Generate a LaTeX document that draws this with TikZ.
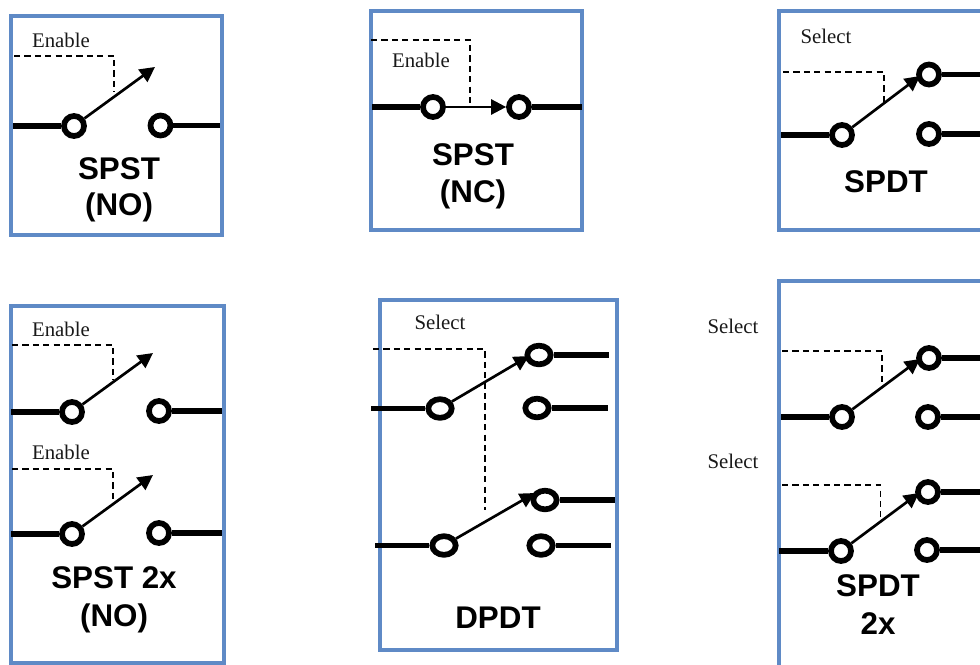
\documentclass[tikz,border=0pt]{standalone}
\usepackage{fontspec}
\setmainfont{Liberation Serif}
\newfontfamily\boldsans[BoldFont=Liberation Sans Bold]{Liberation Sans}
\usetikzlibrary{arrows.meta,shapes.geometric}
\definecolor{boxblue}{HTML}{5F8AC6}
\tikzset{
  x=0.75pt,y=-0.75pt,
  frame/.style={draw=boxblue,line width=3pt,line join=miter},
  term/.style={circle,draw=black,fill=white,line width=4.3pt,minimum size=15pt,inner sep=0pt},
  oterm/.style={ellipse,draw=black,fill=white,line width=4.3pt,minimum width=17.5pt,minimum height=14pt,inner sep=0pt},
  lead/.style={draw=black,line width=4.1pt},
  swarm/.style={draw=black,line width=2pt,-{Triangle[length=11.3pt,width=11.3pt]}},
  ctl/.style={draw=black,line width=1.15pt,dash pattern=on 4.6pt off 3.2pt},
  lab/.style={font=\fontsize{15.6pt}{18pt}\selectfont,inner sep=0pt,text=black!90},
  title/.style={font=\fontsize{23.5pt}{28pt}\selectfont\boldsans\bfseries,inner sep=0pt,text=black},
}
\begin{document}
\begin{tikzpicture}
\useasboundingbox (0,0) rectangle (980,664);
% frames
\draw[frame] (11,16) rectangle (221.5,234.5);
\draw[frame] (371,11) rectangle (581.5,229.7);
\draw[frame] (990,11) -- (779,11) -- (779,229.7) -- (990,229.7);
\draw[frame] (11,306) rectangle (223.5,662.5);
\draw[frame] (379.5,300) rectangle (617,650);
\draw[frame] (779,670) -- (779,281) -- (990,281);

% SPST NO
\node[lab] (t1) at (61,40) {Enable};
\coordinate (c1a) at (14,56); \coordinate (c1b) at (114,56); \coordinate (c1c) at (114,92);
\draw[ctl] (c1a) -- (c1b) -- (c1c);
\coordinate (l1a) at (13,126); \coordinate (l1b) at (220,125.5);
\coordinate (tip1) at (155,67);
\node[term] (a1) at (74,126) {};
\node[term] (b1) at (160.5,125.5) {};
\draw[lead] (l1a) -- (a1); \draw[lead] (b1) -- (l1b);
\draw[swarm] (a1) -- (tip1);
\node[title] (n1) at (119,169) {SPST};
\node[title] (n1b) at (119,207) {(NO)};

% SPST NC
\node[lab] (t2) at (421,60) {Enable};
\coordinate (c2a) at (371,40); \coordinate (c2b) at (470,40); \coordinate (c2c) at (470,103);
\draw[ctl] (c2a) -- (c2b) -- (c2c);
\coordinate (l2a) at (372,107); \coordinate (l2b) at (582,107);
\node[term] (a2) at (433,107) {};
\node[term] (b2) at (519,107) {};
\draw[lead] (l2a) -- (a2); \draw[lead] (b2) -- (l2b);
\draw[swarm] (a2) -- (b2);
\node[title] (n2) at (473,154.5) {SPST};
\node[title] (n2b) at (473,194) {(NC)};

% SPDT
\node[lab] (t3) at (826,36) {Select};
\coordinate (c3a) at (783,72); \coordinate (c3b) at (884,72); \coordinate (c3c) at (884,105);
\draw[ctl] (c3a) -- (c3b) -- (c3c);
\coordinate (l3a) at (781,135); \coordinate (l3b) at (984,74.5); \coordinate (l3c) at (984,134);
\coordinate (tip3) at (920,76);
\node[term] (a3) at (842,135) {};
\node[term] (b3) at (929,74.5) {};
\node[term] (d3) at (929,134) {};
\draw[lead] (l3a) -- (a3); \draw[lead] (b3) -- (l3b); \draw[lead] (d3) -- (l3c);
\draw[swarm] (a3) -- (tip3);
\node[title] (n3) at (886,182) {SPDT};

% SPST 2x
\node[lab] (t4) at (61,329) {Enable};
\coordinate (c4a) at (12,345); \coordinate (c4b) at (113,345); \coordinate (c4c) at (113,380);
\draw[ctl] (c4a) -- (c4b) -- (c4c);
\coordinate (l4a) at (11,412); \coordinate (l4b) at (222,411); \coordinate (tip4) at (153,353);
\node[term] (a4) at (72,412) {};
\node[term] (b4) at (159,411) {};
\draw[lead] (l4a) -- (a4); \draw[lead] (b4) -- (l4b);
\draw[swarm] (a4) -- (tip4);
\node[lab] (t5) at (61,452) {Enable};
\coordinate (c5a) at (12,469); \coordinate (c5b) at (113,469); \coordinate (c5c) at (113,503);
\draw[ctl] (c5a) -- (c5b) -- (c5c);
\coordinate (l5a) at (11,534); \coordinate (l5b) at (222,533); \coordinate (tip5) at (153,475);
\node[term] (a5) at (72,534) {};
\node[term] (b5) at (159,533) {};
\draw[lead] (l5a) -- (a5); \draw[lead] (b5) -- (l5b);
\draw[swarm] (a5) -- (tip5);
\node[title] (n4) at (114,578) {SPST 2x};
\node[title] (n4b) at (114,618) {(NO)};

% DPDT
\node[lab] (t6) at (440,322) {Select};
\coordinate (c6a) at (373,349); \coordinate (c6b) at (485,349); \coordinate (c6c) at (485,510);
\draw[ctl] (c6a) -- (c6b) -- (c6c);
\coordinate (l6a) at (371,408.5); \coordinate (l6b) at (609,355); \coordinate (l6c) at (608,408);
\coordinate (l6d) at (375,545.5); \coordinate (l6e) at (615,500); \coordinate (l6f) at (611,545.5);
\coordinate (tip6) at (529,356); \coordinate (tip7) at (535,493);
\node[oterm] (a6) at (440,408.5) {};
\node[oterm] (b6) at (539,355) {};
\node[oterm] (d6) at (537,408) {};
\node[oterm] (a7) at (444,545.5) {};
\node[oterm] (b7) at (545,500) {};
\node[oterm] (d7) at (541,545.5) {};
\draw[lead] (l6a) -- (a6); \draw[lead] (b6) -- (l6b); \draw[lead] (d6) -- (l6c);
\draw[lead] (l6d) -- (a7); \draw[lead] (b7) -- (l6e); \draw[lead] (d7) -- (l6f);
\draw[swarm] (a6) -- (tip6);
\draw[swarm] (a7) -- (tip7);
\node[title] (n6) at (498,618) {DPDT};

% SPDT 2x
\node[lab] (t8) at (733,326) {Select};
\coordinate (c8a) at (782,351); \coordinate (c8b) at (882,351); \coordinate (c8c) at (882,386);
\draw[ctl] (c8a) -- (c8b) -- (c8c);
\coordinate (l8a) at (781,417); \coordinate (l8b) at (984,358); \coordinate (l8c) at (984,417);
\coordinate (tip8) at (920,359);
\node[term] (a8) at (842,417) {};
\node[term] (b8) at (929,358) {};
\node[term] (d8) at (928,417) {};
\draw[lead] (l8a) -- (a8); \draw[lead] (b8) -- (l8b); \draw[lead] (d8) -- (l8c);
\draw[swarm] (a8) -- (tip8);
\node[lab] (t9) at (733,461) {Select};
\coordinate (c9a) at (782,485); \coordinate (c9b) at (880.5,485); \coordinate (c9c) at (880.5,520);
\draw[ctl] (c9a) -- (c9b) -- (c9c);
\coordinate (l9a) at (779,551); \coordinate (l9b) at (984,492); \coordinate (l9c) at (984,550);
\coordinate (tip9) at (919,493);
\node[term] (a9) at (841,551) {};
\node[term] (b9) at (928,492) {};
\node[term] (d9) at (927,550) {};
\draw[lead] (l9a) -- (a9); \draw[lead] (b9) -- (l9b); \draw[lead] (d9) -- (l9c);
\draw[swarm] (a9) -- (tip9);
\node[title] (n8) at (878,586) {SPDT};
\node[title] (n8b) at (878,623.5) {2x};
\end{tikzpicture}
\end{document}
